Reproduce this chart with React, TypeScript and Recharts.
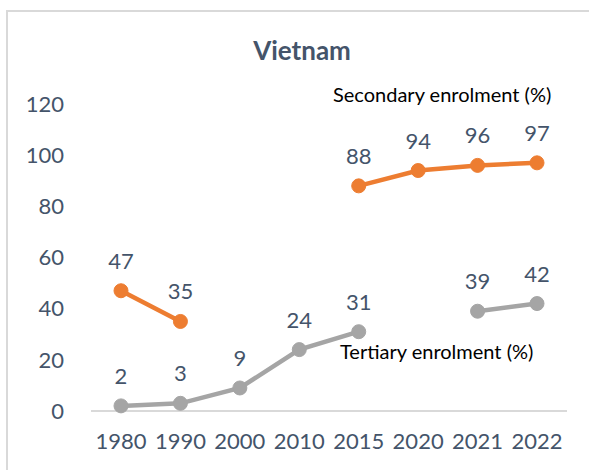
import { LineChart, Line, XAxis, YAxis, ReferenceLine, LabelList } from "recharts";

const FONT = "Lato, 'Open Sans', sans-serif";
const SLATE = "#44546A";
const ORANGE = "#ED7D31";
const GREY = "#A5A5A5";

const years = ["1980", "1990", "2000", "2010", "2015", "2020", "2021", "2022"];
const secondary = [47, 35, null, null, 88, 94, 96, 97];
const tertiary = [2, 3, 9, 24, 31, null, 39, 42];
const yTicks = [0, 20, 40, 60, 80, 100, 120];

const data = years.map((year, i) => ({
  year,
  secondary: secondary[i],
  tertiary: tertiary[i],
}));

export default function App() {
  return (
    <div
      style={{
        position: "fixed",
        left: 0,
        top: 0,
        width: 589,
        height: 470,
        overflow: "hidden",
        background: "#fff",
        fontFamily: FONT,
      }}
    >
      {/* frame: only the top and left edges are in view */}
      <div style={{ position: "absolute", left: 6, top: 10, width: 583, height: 2, background: "#D9D9D9" }} />
      <div style={{ position: "absolute", left: 6, top: 10, width: 2, height: 460, background: "#D9D9D9" }} />
      <div
        style={{
          position: "absolute",
          left: 0,
          width: 604,
          top: 34,
          textAlign: "center",
          fontSize: 26,
          fontWeight: 700,
          color: SLATE,
        }}
      >
        Vietnam
      </div>
      <div style={{ position: "absolute", left: 0, top: 0 }}>
        <LineChart
          width={589}
          height={470}
          data={data}
          margin={{ top: 104, right: 22, bottom: 0, left: 0 }}
          style={{ outline: "none" }}
        >
          <XAxis
            dataKey="year"
            height={59}
            padding={{ left: 30, right: 30 }}
            axisLine={false}
            tickLine={false}
            tickSize={0}
            tickMargin={22}
            interval={0}
            tick={{ fill: SLATE, fontSize: 22, fontFamily: FONT }}
          />
          <YAxis
            width={91}
            domain={[0, 120]}
            ticks={yTicks}
            axisLine={false}
            tickLine={false}
            tickSize={0}
            tickMargin={27}
            tick={{ fill: SLATE, fontSize: 22, fontFamily: FONT }}
          />
          <ReferenceLine y={0} stroke="#D9D9D9" strokeWidth={2} />
          <Line
            dataKey="secondary"
            stroke={ORANGE}
            strokeWidth={4.5}
            dot={{ r: 7, fill: ORANGE, stroke: ORANGE, strokeWidth: 1 }}
            isAnimationActive={false}
          >
            <LabelList
              dataKey="secondary"
              position="top"
              offset={22}
              fill={SLATE}
              fontSize={22}
              fontFamily={FONT}
            />
          </Line>
          <Line
            dataKey="tertiary"
            stroke={GREY}
            strokeWidth={4.5}
            dot={{ r: 7, fill: GREY, stroke: GREY, strokeWidth: 1 }}
            isAnimationActive={false}
          >
            <LabelList
              dataKey="tertiary"
              position="top"
              offset={22}
              fill={SLATE}
              fontSize={22}
              fontFamily={FONT}
            />
          </Line>
        </LineChart>
      </div>
      <div style={{ position: "absolute", left: 333, top: 82, fontSize: 20, color: "#000" }}>
        Secondary enrolment (%)
      </div>
      <div style={{ position: "absolute", left: 340, top: 339, fontSize: 20, color: "#000" }}>
        Tertiary enrolment (%)
      </div>
    </div>
  );
}
